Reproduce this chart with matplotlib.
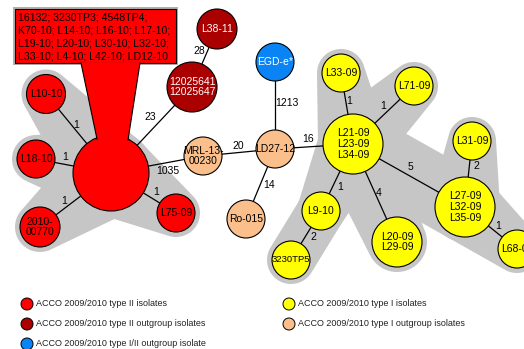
import matplotlib.pyplot as plt
from matplotlib.patches import Circle, Polygon, Rectangle
import numpy as np

plt.rcParams['font.family'] = ['Liberation Sans', 'DejaVu Sans']

# node labels and groups
node_ids = ['big', 'L10', 'L18', 'N2010', 'L75', 'N1202', 'L38', 'EGD', 'LD27', 'MRL', 'Ro',
            'L21', 'L33', 'L71', 'L31', 'L27', 'L9', 'L20', 'L68', 'TP5']
node_text = ['', 'L10-10', 'L18-10', '2010-\n00770', 'L75-09', '12025641\n12025647', 'L38-11',
             'EGD-e*', 'LD27-12', 'MRL-13-\n00230', 'Ro-015',
             'L21-09\nL23-09\nL34-09', 'L33-09', 'L71-09', 'L31-09', 'L27-09\nL32-09\nL35-09',
             'L9-10', 'L20-09\nL29-09', 'L68-09', '3230TP5']
node_group = ['t2', 't2', 't2', 't2', 't2', 't2out', 't2out', 'out12', 't1out', 't1out', 't1out',
              't1', 't1', 't1', 't1', 't1', 't1', 't1', 't1', 't1']
callout_text = ['16132; 3230TP3; 4548TP4;',
                'K70-10; L14-10; L16-10; L17-10;',
                'L19-10; L20-10; L30-10; L32-10;',
                'L33-10; L4-10; L42-10; LD12-10']

# edges: (from, to, allelic distance)
edges = [('big', 'L10', 1), ('big', 'L18', 1), ('big', 'N2010', 1), ('big', 'L75', 1),
         ('big', 'N1202', 23), ('N1202', 'L38', 28), ('big', 'MRL', 1035), ('MRL', 'LD27', 20),
         ('LD27', 'EGD', 1213), ('LD27', 'Ro', 14), ('LD27', 'L21', 16), ('L21', 'L33', 1),
         ('L21', 'L71', 1), ('L21', 'L27', 5), ('L27', 'L31', 2), ('L27', 'L68', 1),
         ('L21', 'L20', 4), ('L21', 'L9', 1), ('L9', 'TP5', 2)]
hull_edges = [('big', 'L10'), ('big', 'L18'), ('big', 'N2010'), ('big', 'L75'),
              ('L21', 'L33'), ('L21', 'L71'), ('L21', 'L27'), ('L27', 'L31'), ('L27', 'L68'),
              ('L21', 'L20'), ('L21', 'L9'), ('L9', 'TP5')]

legend_labels = ['ACCO 2009/2010 type II isolates', 'ACCO 2009/2010 type II outgroup isolates',
                 'ACCO 2009/2010 type I/II outgroup isolate', 'ACCO 2009/2010 type I isolates',
                 'ACCO 2009/2010 type I outgroup isolates']
legend_groups = ['t2', 't2out', 'out12', 't1', 't1out']

# layout (pixel coordinates of the drawing)
pos = {'big': (111, 173, 38), 'L10': (46, 94, 19.5), 'L18': (36, 159, 19), 'N2010': (40, 227, 20),
       'L75': (176, 213, 19), 'N1202': (192, 87, 25), 'L38': (217, 29, 20), 'EGD': (275, 62, 19),
       'LD27': (275, 149, 19), 'MRL': (203, 156, 19), 'Ro': (246, 219, 19),
       'L21': (353, 144, 30), 'L33': (341, 73, 19), 'L71': (414, 86, 19), 'L31': (472, 141, 19),
       'L27': (465, 207, 30), 'L9': (321, 211, 19), 'L20': (397, 242, 25), 'L68': (517, 249, 19),
       'TP5': (291, 260, 19)}
label_pos = [(76, 125), (65, 157), (64, 201), (156, 192), (150, 117), (199, 51), (168, 171),
             (238, 146), (287, 103), (269, 185), (308, 139), (349, 101), (383, 106), (410, 167),
             (476, 166), (498, 226), (379, 193), (340, 187), (313, 237)]

colors = {'t2': '#ff0000', 't2out': '#aa0000', 'out12': '#0a84f5', 't1': '#ffff00', 't1out': '#fbbf8c'}
txt_col = {'t2': 'black', 't2out': 'white', 'out12': 'white', 't1': 'black', 't1out': 'black'}


def convex_hull(pts):
    pts = sorted(map(tuple, pts))
    def cross(o, a, b):
        return (a[0]-o[0])*(b[1]-o[1]) - (a[1]-o[1])*(b[0]-o[0])
    lower, upper = [], []
    for p in pts:
        while len(lower) >= 2 and cross(lower[-2], lower[-1], p) <= 0:
            lower.pop()
        lower.append(p)
    for p in reversed(pts):
        while len(upper) >= 2 and cross(upper[-2], upper[-1], p) <= 0:
            upper.pop()
        upper.append(p)
    return lower[:-1] + upper[:-1]


fig = plt.figure(figsize=(5.24, 3.49), dpi=100)
ax = fig.add_axes([0, 0, 1, 1])
ax.set_xlim(0, 524)
ax.set_ylim(349, 0)
ax.axis('off')

# gray cluster hulls
t = np.linspace(0, 2*np.pi, 72)
for a, b in hull_edges:
    pts = []
    for n in (a, b):
        x, y, r = pos[n]
        pts += list(zip(x + (r+5)*np.cos(t), y + (r+5)*np.sin(t)))
    ax.add_patch(Polygon(convex_hull(pts), closed=True, fc='#c6c6c6', ec='none', zorder=1))

# edges
for (a, b, w), lp in zip(edges, label_pos):
    xa, ya, _ = pos[a]
    xb, yb, _ = pos[b]
    ax.plot([xa, xb], [ya, yb], color='black', lw=0.9, zorder=2)
    ax.text(lp[0], lp[1], str(w), fontsize=7.5, ha='center', va='center', zorder=5)

# nodes
for n, lab, g in zip(node_ids, node_text, node_group):
    x, y, r = pos[n]
    ax.add_patch(Circle((x, y), r, fc=colors[g], ec='black', lw=0.8, zorder=3))
    fs = 6.8 if n == 'TP5' else 7.5
    ax.text(x, y, lab, fontsize=fs, ha='center', va='center', color=txt_col[g],
            linespacing=1.1, zorder=5)

# callout box for the big type II node
ax.add_patch(Rectangle((13, 7), 165, 58, fc='#b0b0b0', ec='none', zorder=3))
ax.add_patch(Rectangle((15, 9), 161, 54, fc='#ff0000', ec='black', lw=0.8, zorder=4))
trap = [(81, 63), (140, 63), (128, 140), (97, 139)]
ax.add_patch(Polygon(trap, closed=True, fc='#ff0000', ec='none', zorder=4))
ax.plot([81, 97], [63, 139], color='black', lw=0.8, zorder=4)
ax.plot([140, 128], [63, 140], color='black', lw=0.8, zorder=4)
for i, line in enumerate(callout_text):
    ax.text(18, 17 + i*13.3, line, fontsize=7.6, ha='left', va='center', zorder=5)

# legend
leg_xy = [(27, 304), (27, 324), (27, 344), (289, 304), (289, 324)]
for (lx, ly), lab, g in zip(leg_xy, legend_labels, legend_groups):
    ax.add_patch(Circle((lx, ly), 6, fc=colors[g], ec='black', lw=0.7, zorder=3))
    ax.text(lx + 9, ly, lab, fontsize=6.5, ha='left', va='center', color='#222222')

fig.savefig('out.png', dpi=100)
